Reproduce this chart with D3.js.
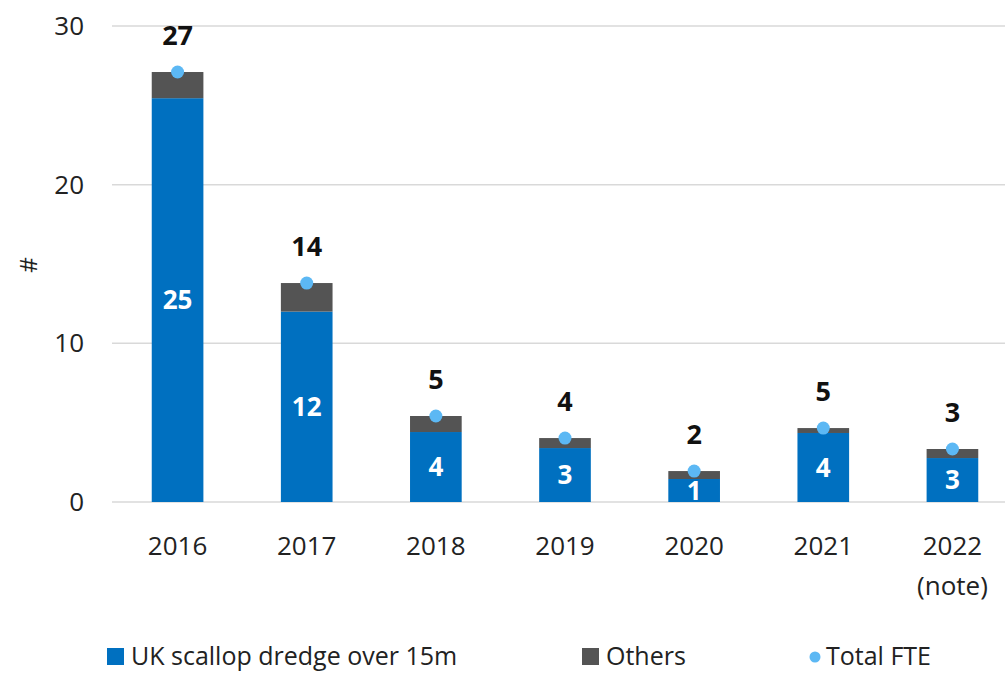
<!DOCTYPE html>
<html>
<head>
<meta charset="utf-8">
<script src="https://cdn.jsdelivr.net/npm/d3@7"></script>
<style>
  body { margin: 0; background: #fff; }
  svg { font-family: "Open Sans", sans-serif; }
</style>
</head>
<body>
<script>
// chart data
const years = ["2016", "2017", "2018", "2019", "2020", "2021", "2022"];
const yearNotes = ["", "", "", "", "", "", "(note)"];
const scallop = [25.45, 12.0, 4.41, 3.4, 1.45, 4.35, 2.77];
const others = [1.65, 1.8, 1.01, 0.63, 0.5, 0.31, 0.57];
const totalFte = [27.1, 13.8, 5.42, 4.03, 1.95, 4.66, 3.34];
const scallopLabels = ["25", "12", "4", "3", "1", "4", "3"];
const totalLabels = ["27", "14", "5", "4", "2", "5", "3"];
const yTicks = [0, 10, 20, 30];

const W = 1005, H = 673;
const blue = "#0070c0", grey = "#545454", dot = "#5cb8f4";

let svg, x, y;

setupSvg();
setupScales();
drawGrid();
drawBars();
drawLabels();
drawLegend();

function setupSvg() {
  svg = d3.select("body").append("svg")
    .attr("width", W)
    .attr("height", H);
}

function setupScales() {
  x = d3.scaleBand().domain(years).range([113, 1017]).paddingInner(0.6).paddingOuter(0.3);
  y = d3.scaleLinear().domain([0, 30]).range([502, 26]);
}

function drawGrid() {
  svg.append("g").selectAll("line")
    .data(yTicks)
    .enter().append("line")
    .attr("x1", 112).attr("x2", W)
    .attr("y1", d => y(d)).attr("y2", d => y(d))
    .attr("stroke", "#d9d9d9").attr("stroke-width", 1.5);

  svg.append("g").selectAll("text")
    .data(yTicks)
    .enter().append("text")
    .attr("x", 84).attr("y", d => y(d))
    .attr("dy", "0.35em")
    .attr("text-anchor", "end")
    .attr("font-size", 26)
    .attr("fill", "#222")
    .text(d => d);

  svg.append("text")
    .attr("transform", `translate(29,265) rotate(-90)`)
    .attr("text-anchor", "middle")
    .attr("dy", "0.35em")
    .attr("font-size", 24)
    .attr("fill", "#222")
    .text("#");

  // category labels
  const xl = svg.append("g").selectAll("g")
    .data(years)
    .enter().append("g")
    .attr("transform", d => `translate(${x(d) + x.bandwidth() / 2},0)`);
  xl.append("text")
    .attr("y", 555)
    .attr("text-anchor", "middle")
    .attr("font-size", 26)
    .attr("fill", "#222")
    .text(d => d);
  xl.append("text")
    .attr("y", 595)
    .attr("text-anchor", "middle")
    .attr("font-size", 26)
    .attr("fill", "#222")
    .text((d, i) => yearNotes[i]);
}

function drawBars() {
  const g = svg.append("g");
  g.selectAll("rect.scallop")
    .data(years)
    .enter().append("rect")
    .attr("class", "scallop")
    .attr("x", d => x(d))
    .attr("width", x.bandwidth())
    .attr("y", (d, i) => y(scallop[i]))
    .attr("height", (d, i) => y(0) - y(scallop[i]))
    .attr("fill", blue);

  g.selectAll("rect.others")
    .data(years)
    .enter().append("rect")
    .attr("class", "others")
    .attr("x", d => x(d))
    .attr("width", x.bandwidth())
    .attr("y", (d, i) => y(scallop[i] + others[i]))
    .attr("height", (d, i) => y(scallop[i]) - y(scallop[i] + others[i]))
    .attr("fill", grey);

  g.selectAll("circle")
    .data(years)
    .enter().append("circle")
    .attr("cx", d => x(d) + x.bandwidth() / 2)
    .attr("cy", (d, i) => y(totalFte[i]))
    .attr("r", 6.5)
    .attr("fill", dot);
}

function drawLabels() {
  svg.append("clipPath").attr("id", "plotclip")
    .append("rect").attr("x", 0).attr("y", 0).attr("width", W).attr("height", y(0));

  svg.append("g").attr("clip-path", "url(#plotclip)")
    .selectAll("text")
    .data(years)
    .enter().append("text")
    .attr("x", d => x(d) + x.bandwidth() / 2)
    .attr("y", (d, i) => (y(0) + y(scallop[i])) / 2)
    .attr("dy", "0.36em")
    .attr("text-anchor", "middle")
    .attr("font-size", 26)
    .attr("font-weight", "bold")
    .attr("fill", "#fff")
    .text((d, i) => scallopLabels[i]);

  svg.append("g").selectAll("text")
    .data(years)
    .enter().append("text")
    .attr("x", d => x(d) + x.bandwidth() / 2)
    .attr("y", (d, i) => y(totalFte[i]) - 37)
    .attr("dy", "0.36em")
    .attr("text-anchor", "middle")
    .attr("font-size", 27)
    .attr("font-weight", "bold")
    .attr("fill", "#111")
    .text((d, i) => totalLabels[i]);
}

function drawLegend() {
  const items = [
    {label: "UK scallop dredge over 15m", x: 107, type: "rect", color: blue},
    {label: "Others", x: 582, type: "rect", color: grey},
    {label: "Total FTE", x: 808, type: "circle", color: dot}
  ];
  const lg = svg.append("g").selectAll("g")
    .data(items)
    .enter().append("g")
    .attr("transform", d => `translate(${d.x},655)`);
  lg.filter(d => d.type === "rect").append("rect")
    .attr("x", 0).attr("y", -7).attr("width", 17).attr("height", 17)
    .attr("fill", d => d.color);
  lg.filter(d => d.type === "circle").append("circle")
    .attr("cx", 7).attr("cy", 2).attr("r", 5.5)
    .attr("fill", d => d.color);
  lg.append("text")
    .attr("x", d => d.type === "rect" ? 24 : 18)
    .attr("y", 1)
    .attr("dy", "0.35em")
    .attr("font-size", 25)
    .attr("fill", "#222")
    .text(d => d.label);
}
</script>
</body>
</html>
